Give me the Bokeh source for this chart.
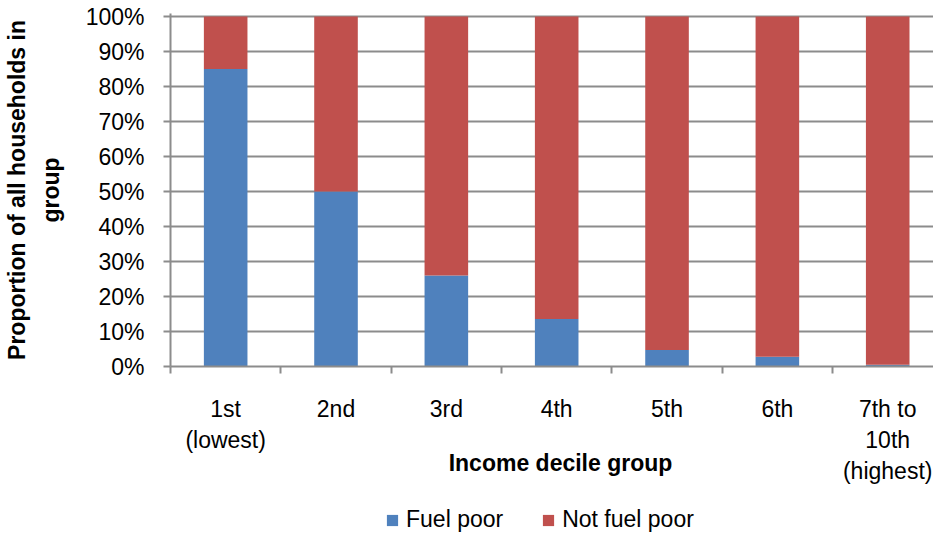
from bokeh.plotting import figure
from bokeh.layouts import column
from bokeh.models import (ColumnDataSource, FixedTicker, NumeralTickFormatter, Range1d,
                          Legend, LegendItem, Label)
from bokeh.embed import file_html
from bokeh.resources import INLINE

# ---- data ----
categories = ["1st\n(lowest)", "2nd", "3rd", "4th", "5th", "6th", "7th to\n10th\n(highest)"]
fuel_poor = [0.85, 0.50, 0.26, 0.136, 0.047, 0.028, 0.005]
not_fuel_poor = [0.15, 0.50, 0.74, 0.864, 0.953, 0.972, 0.995]
series_names = ["Fuel poor", "Not fuel poor"]
y_ticks = [0.0, 0.1, 0.2, 0.3, 0.4, 0.5, 0.6, 0.7, 0.8, 0.9, 1.0]
y_title = "Proportion of all households in\ngroup"
x_title = "Income decile group"

FONT = "Liberation Sans"
GRAY = "#8C8C8C"
BLUE = "#4F81BD"
RED = "#C0504D"

n = len(categories)
centers = [i + 0.5 for i in range(n)]
bounds = list(range(n + 1))

src = ColumnDataSource(dict(x=centers, fuel=fuel_poor, notfuel=not_fuel_poor))

# ---------------- main chart ----------------
p = figure(width=933, height=486, output_backend="svg", toolbar_location=None,
           x_range=Range1d(0, 6.915), y_range=Range1d(0, 1.0086),
           min_border_left=162, min_border_right=0, min_border_top=13,
           min_border_bottom=0)
p.outline_line_color = None

rs = p.vbar_stack(["fuel", "notfuel"], x="x", width=0.395, source=src,
                  color=[BLUE, RED], line_color=None)

# y axis
p.yaxis.ticker = FixedTicker(ticks=y_ticks)
p.yaxis.formatter = NumeralTickFormatter(format="0%")
p.yaxis.major_tick_out = 7
p.yaxis.major_tick_in = 0
p.yaxis.minor_tick_line_color = None
p.yaxis.axis_line_color = GRAY
p.yaxis.axis_line_width = 2
p.yaxis.major_tick_line_color = GRAY
p.yaxis.major_tick_line_width = 2
p.yaxis.major_label_standoff = 19
p.yaxis.major_label_text_font = FONT
p.yaxis.major_label_text_font_size = "23px"
p.yaxis.major_label_text_color = "black"
p.yaxis.axis_label = y_title
p.yaxis.axis_label_text_font = FONT
p.yaxis.axis_label_text_font_size = "23px"
p.yaxis.axis_label_text_font_style = "bold"
p.yaxis.axis_label_text_color = "black"
p.yaxis.axis_label_standoff = 19
p.yaxis.axis_label_text_line_height = 1.3

# x axis
p.xaxis.ticker = FixedTicker(ticks=centers, minor_ticks=bounds)
p.xaxis.major_label_overrides = {c: lab for c, lab in zip(centers, categories)}
p.xaxis.major_tick_out = 0
p.xaxis.major_tick_in = 0
p.xaxis.major_tick_line_color = None
p.xaxis.minor_tick_out = 7
p.xaxis.minor_tick_in = 0
p.xaxis.minor_tick_line_color = GRAY
p.xaxis.minor_tick_line_width = 2
p.xaxis.axis_line_color = GRAY
p.xaxis.axis_line_width = 2
p.xaxis.major_label_standoff = 22
p.xaxis.major_label_text_font = FONT
p.xaxis.major_label_text_font_size = "23px"
p.xaxis.major_label_text_color = "black"
p.xaxis.major_label_text_line_height = 1.2

# grid
p.xgrid.grid_line_color = None
p.ygrid.ticker = FixedTicker(ticks=y_ticks)
p.ygrid.grid_line_color = GRAY
p.ygrid.grid_line_width = 2

# ---------------- bottom strip: x-axis title + legend ----------------
p2 = figure(width=933, height=100, output_backend="svg", toolbar_location=None,
            x_axis_type=None, y_axis_type=None,
            x_range=Range1d(0, 1), y_range=Range1d(0, 1),
            min_border=0, margin=(-51, 0, 0, 0))
p2.outline_line_color = None
p2.background_fill_alpha = 0
p2.border_fill_alpha = 0
p2.xgrid.visible = False
p2.ygrid.visible = False

rs2 = p2.vbar_stack(["fuel", "notfuel"], x="x", width=0.395, source=src,
                    color=[BLUE, RED], line_color=None)
for r in rs2:
    r.visible = False

p2.add_layout(Label(x=390, y=73, x_units="screen", y_units="screen", text=x_title,
                    text_align="center", text_baseline="middle", text_font=FONT,
                    text_font_size="23px", text_font_style="bold", text_color="black"))

legend = Legend(items=[LegendItem(label=series_names[i], renderers=[rs2[i]]) for i in range(2)],
                location=(215, 2), orientation="horizontal",
                border_line_color=None, background_fill_alpha=0,
                inactive_fill_alpha=0,
                padding=0, margin=0, spacing=38, glyph_width=14, glyph_height=14,
                label_standoff=7, label_text_font=FONT, label_text_font_size="23px",
                label_text_color="black")
p2.add_layout(legend)

layout = column(p, p2, spacing=0)
open("out.html", "w").write(file_html(layout, INLINE))
